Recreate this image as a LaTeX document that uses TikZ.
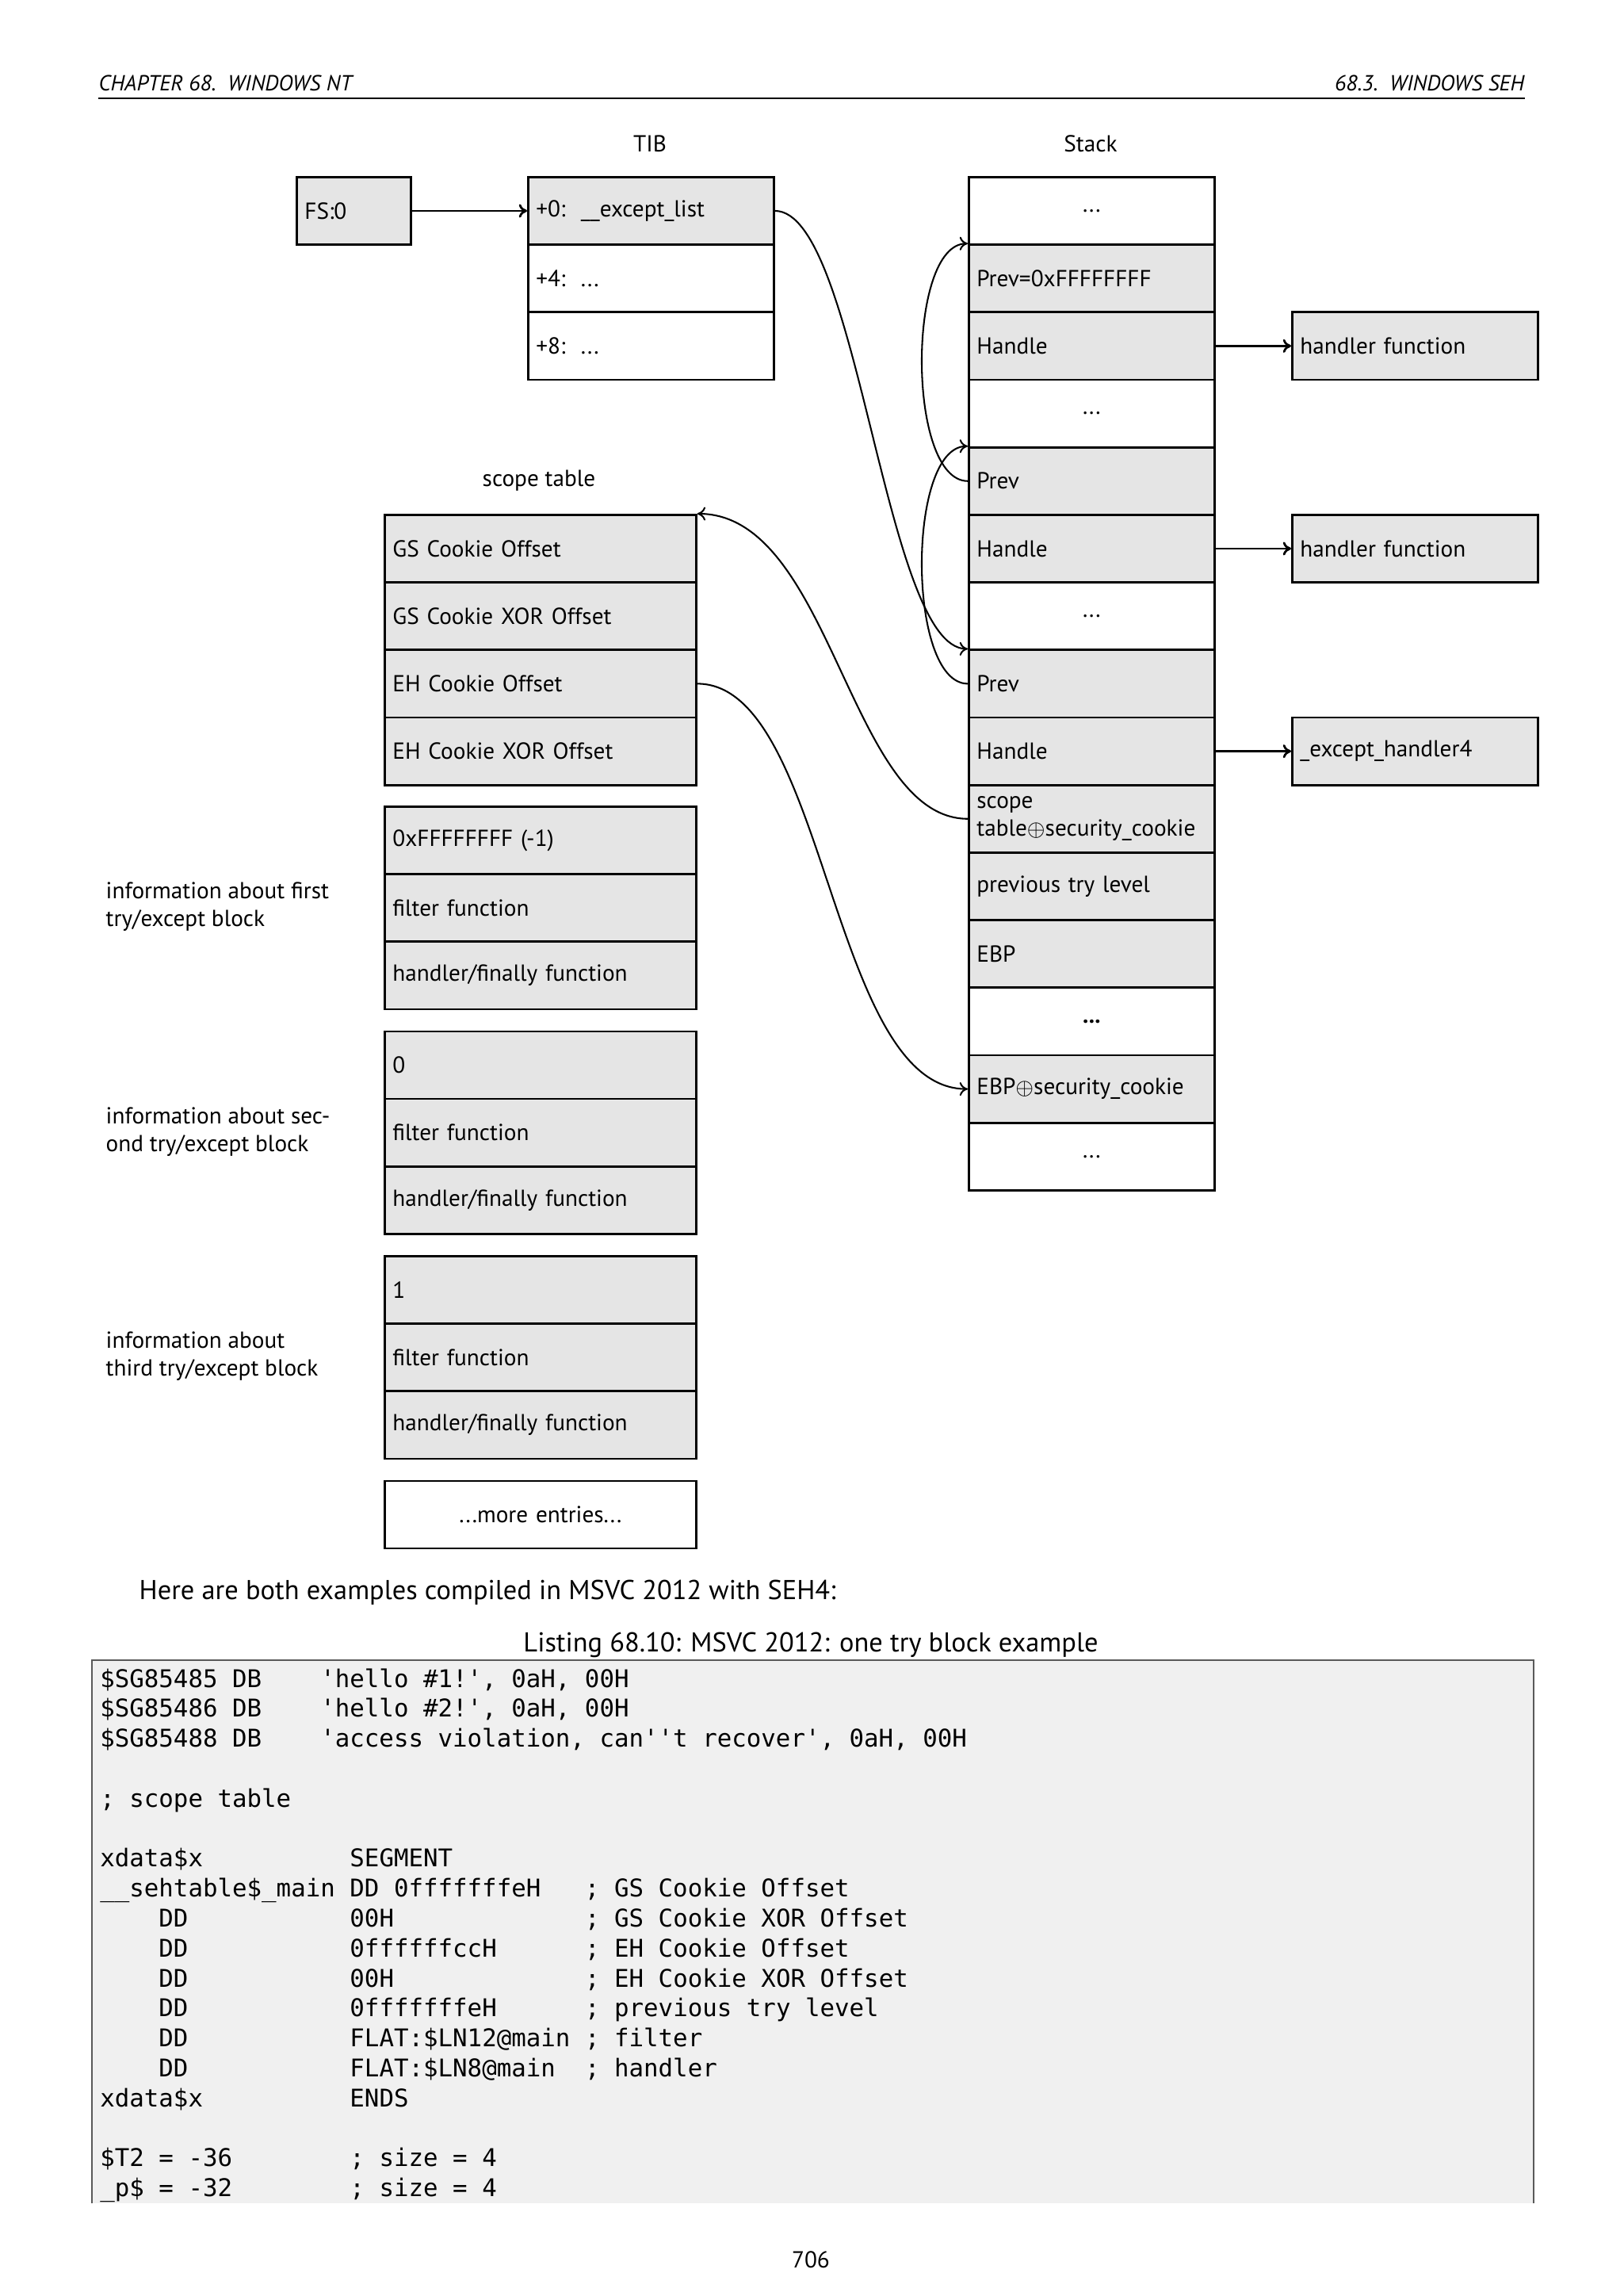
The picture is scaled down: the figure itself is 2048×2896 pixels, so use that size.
\documentclass[tikz,border=0pt]{standalone}
\usepackage{fontspec}
\setmainfont{PT Sans}
\setmonofont{DejaVu Sans Mono}
\usetikzlibrary{arrows.meta}
\newcommand\dfont{\fontsize{8.5}{10.2}\selectfont}
\newcommand\bfont{\fontsize{10}{12}\selectfont}
\newcommand\pfont{\fontsize{8.5}{10}\selectfont}
\newcommand\hfont{\fontsize{8}{9.6}\selectfont\itshape}
\newcommand\lfont{\fontsize{8.95}{11}\selectfont\ttfamily}
\begin{document}
\begin{tikzpicture}[x=0.29066pt, y=-0.29066pt,
  cell/.style={draw, line width=0.8pt, anchor=north west, inner xsep=2.907pt, inner ysep=0pt,
    minimum height=24.76pt, text width=84.29pt, align=left, font=\dfont},
  gcell/.style={cell, fill=black!10},
  wcell/.style={cell, fill=white},
  dcell/.style={wcell, align=center},
  scell/.style={gcell, text width=108.42pt},
  fscell/.style={gcell, text width=36.04pt},
  lbl/.style={font=\dfont, inner sep=0pt},
  conn/.style={-{To[length=3pt,width=5pt]}, line width=0.6pt},
  sconn/.style={-{To[length=3pt,width=5pt]}, line width=0.8pt},
  lst/.style={anchor=base west, inner sep=0pt, font=\lfont},
]
\useasboundingbox (0,0) rectangle (2048,2896);
\fill[white] (0,0) rectangle (2048,2896);

% header
\node[anchor=base west, font=\hfont, inner sep=0pt] (hl) at (124,114) {CHAPTER 68.\ \ WINDOWS NT};
\node[anchor=base east, font=\hfont, inner sep=0pt] (hr) at (1924,114) {68.3.\ \ WINDOWS SEH};
\draw[line width=0.5pt] (124,124) -- (1924,124);

% titles
\node[lbl] (tibl) at (820,181) {TIB};
\node[lbl] (stackl) at (1376,181) {Stack};
\node[lbl] (scopel) at (680,606) {scope table};

% FS:0 and TIB
\node[fscell] (fs) at (373,222) {FS:0};
\node[gcell] (tib0) at (665,222) {+0:\ \ \_\_except\_list};
\node[wcell] (tib4) at (665,307.2) {+4:\ \ ...};
\node[wcell] (tib8) at (665,392.4) {+8:\ \ ...};

% stack
\node[dcell] (s1) at (1221,222) {...};
\node[gcell] (s2) at (1221,307.2) {Prev=0xFFFFFFFF};
\node[gcell] (s3) at (1221,392.4) {Handle};
\node[dcell] (s4) at (1221,477.6) {...};
\node[gcell] (s5) at (1221,562.8) {Prev};
\node[gcell] (s6) at (1221,648) {Handle};
\node[dcell] (s7) at (1221,733.2) {...};
\node[gcell] (s8) at (1221,818.4) {Prev};
\node[gcell] (s9) at (1221,903.6) {Handle};
\node[gcell] (s10) at (1221,988.8) {scope\\table$\oplus$security\_cookie};
\node[gcell] (s11) at (1221,1074) {previous try level};
\node[gcell] (s12) at (1221,1159.2) {EBP};
\node[dcell] (s13) at (1221,1244.4) {\textbf{...}};
\node[gcell] (s14) at (1221,1329.6) {EBP$\oplus$security\_cookie};
\node[dcell] (s15) at (1221,1414.8) {...};

% handlers
\node[gcell] (h1) at (1629,392.4) {handler function};
\node[gcell] (h2) at (1629,648) {handler function};
\node[gcell] (h3) at (1629,903.6) {\_except\_handler4};

% scope table
\node[scell] (sc1) at (484,648) {GS Cookie Offset};
\node[scell] (sc2) at (484,733.2) {GS Cookie XOR Offset};
\node[scell] (sc3) at (484,818.4) {EH Cookie Offset};
\node[scell] (sc4) at (484,903.6) {EH Cookie XOR Offset};

\node[scell] (a1) at (484,1016) {0xFFFFFFFF (-1)};
\node[scell] (a2) at (484,1101.2) {filter function};
\node[scell] (a3) at (484,1186.4) {handler/finally function};

\node[scell] (b1) at (484,1299.5) {0};
\node[scell] (b2) at (484,1384.7) {filter function};
\node[scell] (b3) at (484,1469.9) {handler/finally function};

\node[scell] (c1) at (484,1583) {1};
\node[scell] (c2) at (484,1668.2) {filter function};
\node[scell] (c3) at (484,1753.4) {handler/finally function};

\node[scell, fill=white, align=center] (more) at (484,1866.5) {...more entries...};

% left labels
\node[lbl, anchor=west, align=left] (la) at (133,1143.8) {information about first\\try/except block};
\node[lbl, anchor=west, align=left] (lb) at (133,1427.3) {information about sec-\\ond try/except block};
\node[lbl, anchor=west, align=left] (lc) at (133,1710.8) {information about\\third try/except block};

% connectors
\draw[sconn] (fs.east) -- (tib0.west);
\draw[sconn] (s3.east) -- (h1.west);
\draw[sconn] (s6.east) -- (h2.west);
\draw[sconn] (s9.east) -- (h3.west);
\draw[conn] (tib0.east) .. controls +(105,0) and +(-105,0) .. (s8.north west);
\draw[conn] (s5.west) .. controls +(-77,0) and +(-77,0) .. (s2.north west);
\draw[conn] (s8.west) .. controls +(-77,0) and +(-77,0) .. (s5.north west);
\draw[conn] (s10.west) .. controls +(-150,0) and +(170,0) .. (sc1.north east);
\draw[conn] (sc3.east) .. controls +(163,0) and +(-174,0) .. (s14.west);

% text
\node[anchor=base west, font=\bfont, inner sep=0pt] (para) at (175,2017) {Here are both examples compiled in MSVC 2012 with SEH4:};
\node[anchor=base, font=\bfont, inner sep=0pt] (cap) at (1023,2083) {Listing 68.10: MSVC 2012: one try block example};

% listing box
\fill[black!6] (116,2094) rectangle (1935,2779);
\draw[black!65, line width=0.6pt] (116,2779) -- (116,2094) -- (1935,2094) -- (1935,2779);

\node[lst] (l1) at (125.6,2128) {\$SG85485~DB~~~~'hello~\#1!',~0aH,~00H};
\node[lst] (l2) at (125.6,2165.8) {\$SG85486~DB~~~~'hello~\#2!',~0aH,~00H};
\node[lst] (l3) at (125.6,2203.6) {\$SG85488~DB~~~~'access~violation,~can''t~recover',~0aH,~00H};
\node[lst] (l5) at (125.6,2279.2) {;~scope~table};
\node[lst] (l7) at (125.6,2354.8) {xdata\$x~~~~~~~~~~SEGMENT};
\node[lst] (l8) at (125.6,2392.6) {\_\_sehtable\$\_main~DD~0fffffffeH~~~;~GS~Cookie~Offset};
\node[lst] (l9) at (125.6,2430.4) {~~~~DD~~~~~~~~~~~00H~~~~~~~~~~~~~;~GS~Cookie~XOR~Offset};
\node[lst] (l10) at (125.6,2468.2) {~~~~DD~~~~~~~~~~~0ffffffccH~~~~~~;~EH~Cookie~Offset};
\node[lst] (l11) at (125.6,2506) {~~~~DD~~~~~~~~~~~00H~~~~~~~~~~~~~;~EH~Cookie~XOR~Offset};
\node[lst] (l12) at (125.6,2543.8) {~~~~DD~~~~~~~~~~~0fffffffeH~~~~~~;~previous~try~level};
\node[lst] (l13) at (125.6,2581.6) {~~~~DD~~~~~~~~~~~FLAT:\$LN12@main~;~filter};
\node[lst] (l14) at (125.6,2619.4) {~~~~DD~~~~~~~~~~~FLAT:\$LN8@main~~;~handler};
\node[lst] (l15) at (125.6,2657.2) {xdata\$x~~~~~~~~~~ENDS};
\node[lst] (l17) at (125.6,2732.8) {\$T2~=~-36~~~~~~~~;~size~=~4};
\node[lst] (l18) at (125.6,2770.6) {\_p\$~=~-32~~~~~~~~;~size~=~4};

\node[font=\pfont, inner sep=0pt] (pg) at (1023,2850) {706};
\end{tikzpicture}
\end{document}
